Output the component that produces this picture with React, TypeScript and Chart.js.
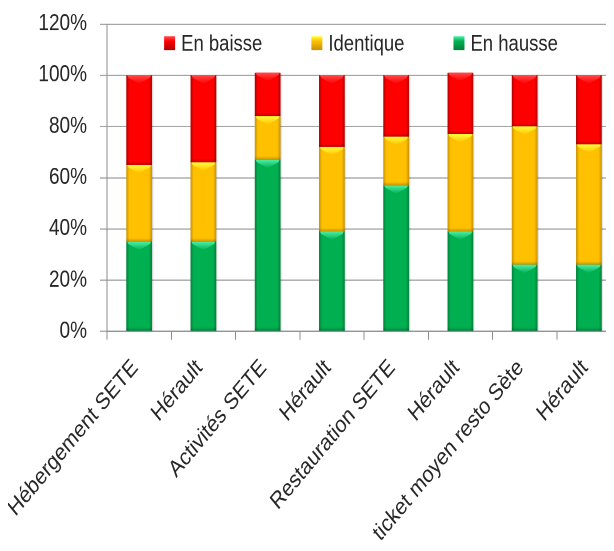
import React, { useEffect, useRef } from "react";
import { Chart, registerables } from "chart.js";

Chart.register(...registerables);

const categories = [
  "Hébergement SETE",
  "Hérault",
  "Activités SETE",
  "Hérault",
  "Restauration SETE",
  "Hérault",
  "ticket moyen resto Sète",
  "Hérault",
];
const enHausse = [35, 35, 67, 39, 57, 39, 26, 26];
const identique = [30, 31, 17, 33, 19, 38, 54, 47];
const enBaisse = [35, 34, 17, 28, 24, 24, 20, 27];
const yTicks = [0, 20, 40, 60, 80, 100, 120];
const seriesLabels = ["En hausse", "Identique", "En baisse"];

const FONT = "'Liberation Sans', Arial, sans-serif";
const STRETCH = 1.2;
const CANVAS_W = 620;
const CANVAS_H = 543 / STRETCH;

const palettes = [
  { base: "#00B050", dark: "#00803A", light: "#4DF0A6" },
  { base: "#FFC000", dark: "#C89200", light: "#FFFF3A" },
  { base: "#FF0000", dark: "#B00000", light: "#FF4A4A" },
];

function barFill(i: number) {
  return (ctx: any) => {
    const chart = ctx.chart;
    const pal = palettes[i];
    if (!chart.chartArea || ctx.dataIndex === undefined) return pal.base;
    const meta = chart.getDatasetMeta(ctx.datasetIndex);
    const el = meta.data[ctx.dataIndex];
    const x = chart.scales.x.getPixelForValue(ctx.dataIndex);
    const w = el && el.width ? el.width : 26;
    const g = chart.ctx.createLinearGradient(x - w / 2, 0, x + w / 2, 0);
    g.addColorStop(0, pal.dark);
    g.addColorStop(0.12, pal.base);
    g.addColorStop(0.88, pal.base);
    g.addColorStop(1, pal.dark);
    return g;
  };
}

const shadowPlugin = {
  id: "barShadow",
  beforeDatasetsDraw(chart: any) {
    const c = chart.ctx;
    c.save();
    c.shadowColor = "rgba(0,0,0,0.28)";
    c.shadowOffsetX = 2;
    c.shadowOffsetY = 1;
    c.shadowBlur = 3;
  },
  afterDatasetsDraw(chart: any) {
    const c = chart.ctx;
    c.restore();
    chart.data.datasets.forEach((ds: any, di: number) => {
      const meta = chart.getDatasetMeta(di);
      const pal = palettes[di];
      meta.data.forEach((el: any) => {
        const p = el.getProps(["x", "y", "base", "width"], true);
        const top = Math.min(p.y, p.base);
        const bottom = Math.max(p.y, p.base);
        const l = p.x - p.width / 2;
        const r = p.x + p.width / 2;
        const h = bottom - top;
        if (h < 4) return;
        const bev = Math.min(7, h / 2);
        c.save();
        const g = c.createLinearGradient(0, top, 0, top + bev);
        g.addColorStop(0, pal.light);
        g.addColorStop(1, pal.base);
        c.fillStyle = g;
        c.beginPath();
        c.moveTo(l + 1, top);
        c.lineTo(r - 1, top);
        c.lineTo(r - 2, top + 2);
        c.lineTo(p.x, top + bev);
        c.lineTo(l + 2, top + 2);
        c.closePath();
        c.fill();
        const g2 = c.createLinearGradient(0, bottom - 3, 0, bottom);
        g2.addColorStop(0, "rgba(0,0,0,0)");
        g2.addColorStop(1, "rgba(0,0,0,0.22)");
        c.fillStyle = g2;
        c.fillRect(l, bottom - 3, r - l, 3);
        c.restore();
      });
    });
  },
};

const legendPlugin = {
  id: "inAreaLegend",
  afterDraw(chart: any) {
    const c = chart.ctx;
    const area = chart.chartArea;
    c.save();
    c.font = `18.5px ${FONT}`;
    c.textBaseline = "middle";
    c.textAlign = "left";
    const order = [2, 1, 0];
    const box = 11;
    const boxH = 11.5;
    const gap = 6;
    const spacing = 49;
    const widths = order.map(
      (i) => box + gap + c.measureText(chart.data.datasets[i].label).width
    );
    const total = widths.reduce((a, b) => a + b, 0) + spacing * (order.length - 1);
    let x = (area.left + area.right) / 2 - total / 2 - 3;
    const cy = area.top + 16;
    order.forEach((i, k) => {
      const pal = palettes[i];
      const g = c.createLinearGradient(0, cy - boxH / 2, 0, cy + boxH / 2);
      g.addColorStop(0, pal.light);
      g.addColorStop(0.35, pal.base);
      g.addColorStop(1, pal.dark);
      c.fillStyle = g;
      c.fillRect(x, cy - boxH / 2, box, boxH);
      c.fillStyle = "#262626";
      c.fillText(chart.data.datasets[i].label, x + box + gap, cy + 1);
      x += widths[k] + spacing;
    });
    c.restore();
  },
};

export default function App() {
  const ref = useRef<HTMLCanvasElement | null>(null);

  useEffect(() => {
    if (!ref.current) return;
    const series = [enHausse, identique, enBaisse];
    const chart = new Chart(ref.current, {
      type: "bar",
      data: {
        labels: categories,
        datasets: series.map((d, i) => ({
          label: seriesLabels[i],
          data: d,
          backgroundColor: barFill(i),
          borderWidth: 0,
          categoryPercentage: 1,
          barPercentage: 0.4,
        })),
      },
      options: {
        animation: false,
        responsive: true,
        maintainAspectRatio: false,
        devicePixelRatio: 2,
        layout: { padding: { top: 16 / STRETCH, right: 7, left: 0, bottom: 0 } },
        plugins: {
          legend: { display: false },
          tooltip: { enabled: false },
          title: { display: false },
        },
        scales: {
          x: {
            stacked: true,
            offset: true,
            afterFit: (s: any) => {
              s.height = CANVAS_H - 323 / STRETCH;
              s.paddingLeft = 0;
              s.paddingRight = 0;
              s.paddingTop = 0;
              s.paddingBottom = 0;
            },
            grid: {
              display: true,
              offset: true,
              drawOnChartArea: false,
              drawTicks: true,
              tickLength: 7,
              color: "#8C8C8C",
            },
            border: { display: true, color: "#8C8C8C" },
            ticks: {
              autoSkip: false,
              minRotation: 45,
              maxRotation: 45,
              padding: 12,
              labelOffset: -4,
              color: "#262626",
              font: { family: FONT, size: 19.5 },
            },
          },
          y: {
            stacked: true,
            min: 0,
            max: 120,
            afterFit: (s: any) => {
              s.width = 99;
              s.paddingTop = 0;
              s.paddingBottom = 0;
              s.paddingLeft = 0;
              s.paddingRight = 0;
            },
            afterBuildTicks: (s: any) => {
              s.ticks = yTicks.map((v) => ({ value: v }));
            },
            grid: {
              color: "#A6A6A6",
              tickLength: 7,
              drawTicks: true,
            },
            border: { display: true, color: "#8C8C8C" },
            ticks: {
              padding: 13,
              color: "#262626",
              font: { family: FONT, size: 19 },
              callback: (v: any) => `${v}%`,
            },
          },
        },
      },
      plugins: [shadowPlugin, legendPlugin],
    });
    return () => chart.destroy();
  }, []);

  return (
    <div style={{ width: 606, height: 543, overflow: "hidden", position: "relative" }}>
      <div
        style={{
          width: CANVAS_W,
          height: CANVAS_H,
          position: "relative",
          transform: `scaleY(${STRETCH})`,
          transformOrigin: "0 0",
        }}
      >
        <canvas ref={ref} />
      </div>
    </div>
  );
}
